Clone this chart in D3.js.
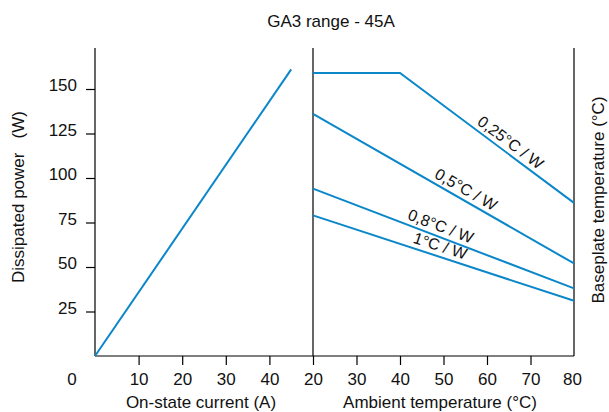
<!DOCTYPE html>
<html>
<head>
<meta charset="utf-8">
<script src="https://cdn.jsdelivr.net/npm/d3@7"></script>
<style>
  html, body { margin: 0; padding: 0; background: #fff; }
  svg { display: block; font-family: "Liberation Sans", Arial, sans-serif; }
</style>
</head>
<body>
<svg id="chart" width="609" height="412"></svg>
<script>
// ---- Data ----
const titleText = "GA3 range - 45A";
const powerTicks = [25, 50, 75, 100, 125, 150];
const currentTicks = [10, 20, 30, 40];
const ambientTicks = [20, 30, 40, 50, 60, 70, 80];

// Left panel: dissipated power vs on-state current
const currentValues = [0, 45];
const powerValues = [0, 161];

// Right panel: dissipated power vs ambient temperature for each thermal resistance
const rthLabels = ["0,25°C / W", "0,5°C / W", "0,8°C / W", "1°C / W"];
const rth025Temp = [20, 40, 80];
const rth025Power = [159, 159, 86];
const rth05Temp = [20, 80];
const rth05Power = [136, 52];
const rth08Temp = [20, 80];
const rth08Power = [94, 38];
const rth1Temp = [20, 80];
const rth1Power = [79, 31];
const labelTemps = [64, 54, 48.5, 48.5];

const series = [
  { label: rthLabels[0], t: rth025Temp, p: rth025Power, lt: labelTemps[0] },
  { label: rthLabels[1], t: rth05Temp, p: rth05Power, lt: labelTemps[1] },
  { label: rthLabels[2], t: rth08Temp, p: rth08Power, lt: labelTemps[2] },
  { label: rthLabels[3], t: rth1Temp, p: rth1Power, lt: labelTemps[3] }
];

// ---- Layout ----
const svg = d3.select("#chart");
const yTop = 48, yBottom = 356;
const xL = d3.scaleLinear().domain([0, 50]).range([95, 313]);
const xR = d3.scaleLinear().domain([20, 80]).range([313, 574]);
const y = d3.scaleLinear().domain([0, 150]).range([yBottom, 89]);
const blue = "#0b87c9";
const fs = 17;
const ff = "Liberation Sans, Arial, sans-serif";

// Title
svg.append("text").attr("x", 331).attr("y", 26.5).attr("text-anchor", "middle")
  .attr("font-size", fs).attr("fill", "#111").text(titleText);

// Axis lines
const axisG = svg.append("g").attr("stroke", "#000").attr("stroke-width", 1.2);
[xL(0), xL(50), xR(80)].forEach(x => {
  axisG.append("line").attr("x1", x).attr("x2", x).attr("y1", yTop).attr("y2", yBottom);
});
axisG.append("line").attr("x1", xL(0)).attr("x2", xR(80)).attr("y1", yBottom).attr("y2", yBottom);

// Y axis ticks
const yAxis = svg.append("g").attr("transform", `translate(${xL(0)},0)`)
  .call(d3.axisLeft(y).tickValues(powerTicks).tickSize(9).tickPadding(9));
yAxis.select(".domain").remove();
yAxis.selectAll("line").attr("stroke", "#000").attr("stroke-width", 1.2);
yAxis.selectAll("text").attr("font-size", fs).attr("font-family", ff)
  .attr("fill", "#111").attr("dy", "0.11em");

// Left X axis
const xAxisL = svg.append("g").attr("transform", `translate(0,${yBottom})`)
  .call(d3.axisBottom(xL).tickValues(currentTicks).tickSize(9).tickPadding(8));
xAxisL.select(".domain").remove();
xAxisL.selectAll("line").attr("stroke", "#000").attr("stroke-width", 1.2);
xAxisL.selectAll("text").attr("font-size", fs).attr("font-family", ff).attr("fill", "#111");

// Right X axis
const xAxisR = svg.append("g").attr("transform", `translate(0,${yBottom})`)
  .call(d3.axisBottom(xR).tickValues(ambientTicks).tickSize(9).tickPadding(8));
xAxisR.select(".domain").remove();
xAxisR.selectAll("line").attr("stroke", "#000").attr("stroke-width", 1.2)
  .filter(d => d === 80).remove();
xAxisR.selectAll("text").attr("font-size", fs).attr("font-family", ff).attr("fill", "#111")
  .attr("dx", d => d === 80 ? -2 : 0);

// Corner "0"
svg.append("text").attr("x", xL(0) - 23).attr("y", yBottom + 29).attr("text-anchor", "middle")
  .attr("font-size", fs).attr("fill", "#111").text("0");

// Axis titles
svg.append("text").attr("x", 201).attr("y", 408).attr("text-anchor", "middle")
  .attr("font-size", fs).attr("fill", "#111").text("On-state current (A)");
svg.append("text").attr("x", 440).attr("y", 408).attr("text-anchor", "middle")
  .attr("font-size", fs).attr("fill", "#111").text("Ambient temperature (°C)");
svg.append("text").attr("transform", "translate(24,197) rotate(-90)").attr("text-anchor", "middle")
  .attr("font-size", fs).attr("fill", "#111")
  .style("white-space", "pre").text("Dissipated power   (W)");
svg.append("text").attr("transform", "translate(604,200) rotate(-90)").attr("text-anchor", "middle")
  .attr("font-size", fs).attr("fill", "#111").text("Baseplate temperature (°C)");

// Left line
const lineL = d3.line().x(d => xL(d[0])).y(d => y(d[1]));
svg.append("path").datum(d3.zip(currentValues, powerValues))
  .attr("d", lineL).attr("fill", "none").attr("stroke", blue).attr("stroke-width", 2);

// Right lines
const lineR = d3.line().x(d => xR(d[0])).y(d => y(d[1]));
series.forEach(s => {
  svg.append("path").datum(d3.zip(s.t, s.p))
    .attr("d", lineR).attr("fill", "none").attr("stroke", blue).attr("stroke-width", 2);
  const n = s.t.length;
  const t0 = s.t[n - 2], t1 = s.t[n - 1], p0 = s.p[n - 2], p1 = s.p[n - 1];
  const x0 = xR(t0), y0 = y(p0), x1 = xR(t1), y1 = y(p1);
  const ang = Math.atan2(y1 - y0, x1 - x0) * 180 / Math.PI;
  const pAt = p0 + (p1 - p0) * (s.lt - t0) / (t1 - t0);
  svg.append("text")
    .attr("transform", `translate(${xR(s.lt)},${y(pAt)}) rotate(${ang})`)
    .attr("text-anchor", "middle").attr("dy", -5)
    .attr("font-size", 16).attr("fill", "#111").text(s.label);
});
</script>
</body>
</html>
